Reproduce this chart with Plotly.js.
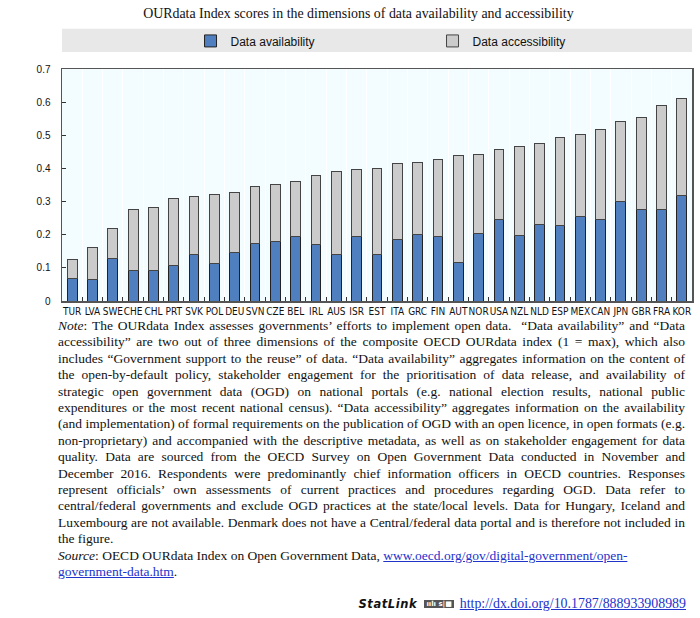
<!DOCTYPE html>
<html>
<head>
<meta charset="utf-8">
<script src="https://cdn.plot.ly/plotly-3.0.1.min.js"></script>
<style>
  html, body { margin: 0; padding: 0; background: #ffffff; width: 700px; height: 618px; overflow: hidden; }
  #chart { position: absolute; left: 0; top: 0; width: 700px; height: 318px; }
  #note { position: absolute; left: 58px; top: 318px; width: 627px;
          font-family: "Liberation Serif", "Times New Roman", serif; font-size: 13.5px;
          line-height: 16.4px; color: #111; }
  #note .j { text-align: justify; text-align-last: justify; white-space: nowrap; }
  #note .l { text-align: left; white-space: nowrap; }
  #note a { color: #2233cc; text-decoration: underline; }
  #statlink { position: absolute; right: 14px; top: 596px; font-family: "Liberation Serif", serif;
              font-size: 13.9px; color: #111; white-space: nowrap; }
  #statlink .sl { font-family: "DejaVu Sans", Verdana, sans-serif; font-style: italic; font-weight: bold;
                  font-size: 11.5px; letter-spacing: 0.6px; margin-right: 7px; }
  #statlink .ico { display: inline-block; font-family: "DejaVu Sans", sans-serif; font-size: 7px; font-weight: bold;
                   background: #555; color: #fff; padding: 0 2px; margin-right: 6px; vertical-align: 2px; }
  #statlink a { color: #2233cc; text-decoration: underline; }
</style>
</head>
<body>
<div id="chart"></div>
<div id="note">
<div class="j"><i>Note</i>: The OURdata Index assesses governments’ efforts to implement open data.&nbsp; “Data availability” and “Data</div>
<div class="j">accessibility” are two out of three dimensions of the composite OECD OURdata index (1 = max), which also</div>
<div class="j">includes “Government support to the reuse” of data. “Data availability” aggregates information on the content of</div>
<div class="j">the open-by-default policy, stakeholder engagement for the prioritisation of data release, and availability of</div>
<div class="j">strategic open government data (OGD) on national portals (e.g. national election results, national public</div>
<div class="j">expenditures or the most recent national census). “Data accessibility” aggregates information on the availability</div>
<div class="j">(and implementation) of formal requirements on the publication of OGD with an open licence, in open formats (e.g.</div>
<div class="j">non-proprietary) and accompanied with the descriptive metadata, as well as on stakeholder engagement for data</div>
<div class="j">quality. Data are sourced from the OECD Survey on Open Government Data conducted in November and</div>
<div class="j">December 2016. Respondents were predominantly chief information officers in OECD countries. Responses</div>
<div class="j">represent officials’ own assessments of current practices and procedures regarding OGD. Data refer to</div>
<div class="j">central/federal governments and exclude OGD practices at the state/local levels. Data for Hungary, Iceland and</div>
<div class="j">Luxembourg are not available. Denmark does not have a Central/federal data portal and is therefore not included in</div>
<div class="l">the figure.</div>
<div class="l"><i>Source</i>: OECD OURdata Index on Open Government Data, <a href="#">www.oecd.org/gov/digital-government/open-</a></div>
<div class="l"><a href="#">government-data.htm</a>.</div>
</div>
<div id="statlink"><span class="sl">StatLink</span><span class="ico">ıılı s|■</span><a href="#">http://dx.doi.org/10.1787/888933908989</a></div>
<script>
const countries = ["TUR","LVA","SWE","CHE","CHL","PRT","SVK","POL","DEU","SVN","CZE","BEL","IRL","AUS","ISR","EST","ITA","GRC","FIN","AUT","NOR","USA","NZL","NLD","ESP","MEX","CAN","JPN","GBR","FRA","KOR"];
const availability = [0.068,0.066,0.128,0.092,0.093,0.107,0.141,0.113,0.145,0.173,0.180,0.195,0.170,0.139,0.195,0.140,0.187,0.202,0.196,0.117,0.205,0.246,0.199,0.231,0.229,0.256,0.245,0.299,0.275,0.277,0.318];
const accessibility = [0.057,0.096,0.092,0.183,0.189,0.203,0.175,0.207,0.181,0.172,0.172,0.167,0.209,0.251,0.203,0.260,0.227,0.217,0.231,0.323,0.238,0.210,0.266,0.245,0.265,0.245,0.273,0.242,0.279,0.313,0.292];
const yTicks = [0, 0.1, 0.2, 0.3, 0.4, 0.5, 0.6, 0.7];
const yTickText = ["0","0.1","0.2","0.3","0.4","0.5","0.6","0.7"];

const narrow = '"Liberation Sans Narrow", "DejaVu Sans Condensed", "Liberation Sans", Arial, sans-serif';

const traces = [
  { type: "bar", name: "Data availability", x: countries, y: availability,
    marker: { color: "#4f7fbf", line: { color: "#222222", width: 1 } } },
  { type: "bar", name: "Data accessibility", x: countries, y: accessibility,
    marker: { color: "#cbcbcb", line: { color: "#444444", width: 1 } } }
];

const layout = {
  width: 700, height: 318,
  margin: { l: 62, r: 8, t: 69, b: 17 },
  barmode: "stack",
  bargap: 0.52,
  paper_bgcolor: "#ffffff",
  plot_bgcolor: "#f3fcff",
  title: { text: "OURdata Index scores in the dimensions of data availability and accessibility",
           font: { family: '"Liberation Serif", "Times New Roman", serif', size: 13.9, color: "#111" },
           x: 0.512, xanchor: "center", y: 0.958, yanchor: "middle" },
  showlegend: true,
  legend: { orientation: "h", x: 0.204, xanchor: "left", y: 1.121, yanchor: "middle",
            bgcolor: "rgba(0,0,0,0)", entrywidth: 197, entrywidthmode: "pixels",
            font: { family: '"Liberation Sans", Arial, sans-serif', size: 12, color: "#111" },
            itemwidth: 30, traceorder: "normal" },
  shapes: [
    { type: "rect", xref: "paper", yref: "paper", x0: 0, x1: 1, y0: 1.073, y1: 1.173,
      fillcolor: "#e8e8e8", line: { width: 0 }, layer: "below" }
  ],
  xaxis: {
    type: "category",
    tickfont: { family: narrow, size: 10, color: "#111" },
    ticks: "inside", ticklen: 4, tickcolor: "#333", tickson: "boundaries",
    showgrid: true, gridcolor: "#ffffff", gridwidth: 1,
    showline: true, linecolor: "#555", linewidth: 1.5, mirror: true,
    tickangle: 0, automargin: false
  },
  yaxis: {
    range: [0, 0.7],
    tickvals: yTicks, ticktext: yTickText,
    tickfont: { family: '"Liberation Sans", Arial, sans-serif', size: 10, color: "#111" },
    ticks: "inside", ticklen: 4, tickcolor: "#333", ticklabelstandoff: 8,
    showgrid: false, zeroline: false,
    showline: true, linecolor: "#555", linewidth: 1.5, mirror: true,
    automargin: false
  }
};

Plotly.newPlot("chart", traces, layout, { staticPlot: true, displayModeBar: false });
</script>
</body>
</html>
